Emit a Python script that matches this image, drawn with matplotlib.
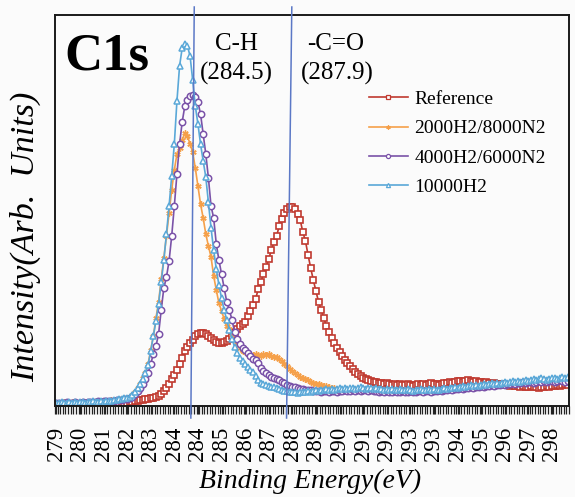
import matplotlib
matplotlib.use("Agg")
import matplotlib.pyplot as plt
import matplotlib.transforms as mtransforms
from matplotlib.lines import Line2D

# ---------------- data ----------------
E_START = 279.0     # first binding energy (eV)
E_STEP = 0.1        # sampling step (eV)

tick_labels = ["279", "280", "281", "282", "283", "284", "284", "285", "286",
               "287", "288", "289", "290", "291", "292", "293", "293", "294",
               "295", "296", "297", "298"]
TICK_EVERY = 9      # one label every 9 samples (Excel category axis)

series_names = ["Reference", "2000H2/8000N2", "4000H2/6000N2", "10000H2"]

reference = [
    1, 2, 1, 2, 1, 2, 1, 2, 2, 1,
    2, 1, 2, 2, 1, 2, 2, 2, 1, 2,
    2, 2, 2, 2, 3, 2, 3, 3, 4, 4,
    5, 5, 6, 6, 7, 7, 8, 8, 9, 10,
    12, 15, 18, 22, 27, 31, 36, 42, 48, 55,
    59, 63, 66, 70, 72, 73, 73, 72, 70, 68,
    66, 64, 63, 63, 64, 65, 67, 70, 74, 77,
    80, 82, 84, 90, 95, 101, 107, 117, 124, 132,
    139, 147, 156, 164, 170, 180, 187, 193, 197, 199,
    199, 197, 192, 186, 174, 165, 151, 138, 126, 115,
    104, 96, 88, 80, 74, 68, 63, 58, 54, 50,
    46, 43, 40, 37, 34, 32, 30, 28, 27, 26,
    25, 24, 24, 23, 23, 22, 23, 22, 21, 22,
    21, 22, 21, 21, 22, 21, 20, 21, 22, 21,
    22, 21, 22, 23, 22, 22, 21, 22, 23, 23,
    24, 23, 24, 25, 25, 24, 25, 26, 25, 24,
    25, 24, 24, 23, 24, 23, 22, 23, 22, 21,
    22, 21, 21, 20, 21, 20, 20, 19, 20, 19,
    19, 20, 19, 19, 18, 19, 19, 20, 19, 20,
    20, 21, 20, 21, 22, 21]

h2_2000 = [
    3, 3, 3, 4, 3, 3, 4, 3, 3, 4,
    4, 4, 3, 4, 4, 5, 4, 5, 5, 5,
    5, 6, 6, 6, 7, 7, 8, 8, 9, 11,
    14, 18, 22, 28, 33, 42, 56, 70, 88, 104,
    127, 148, 170, 193, 216, 236, 252, 258, 266, 273,
    270, 262, 254, 238, 220, 202, 188, 172, 160, 149,
    130, 116, 103, 95, 87, 80, 77, 72, 67, 62,
    58, 55, 54, 52, 51, 51, 52, 51, 50, 52,
    51, 52, 50, 49, 49, 47, 45, 42, 40, 37,
    35, 33, 31, 29, 28, 27, 26, 24, 23, 22,
    22, 21, 20, 20, 19, 18, 18, 17, 17, 16,
    17, 16, 17, 16, 17, 17, 16, 17, 16, 17,
    17, 16, 17, 16, 16, 15, 16, 15, 16, 15,
    15, 16, 15, 15, 16, 15, 14, 15, 15, 16,
    15, 15, 16, 15, 16, 15, 15, 16, 17, 16,
    17, 17, 18, 17, 18, 19, 18, 19, 20, 19,
    20, 19, 20, 21, 20, 21, 22, 21, 22, 21,
    22, 23, 22, 23, 24, 23, 24, 23, 24, 25,
    24, 25, 26, 25, 26, 27, 26, 25, 26, 27,
    27, 26, 27, 28, 27, 28]

h2_4000 = [
    3, 3, 3, 3, 4, 3, 3, 4, 3, 3,
    4, 3, 4, 4, 4, 4, 5, 4, 5, 5,
    5, 5, 5, 6, 6, 6, 7, 7, 8, 9,
    12, 15, 18, 22, 27, 33, 42, 52, 60, 72,
    96, 118, 129, 145, 170, 200, 232, 262, 284, 300,
    306, 310, 311, 309, 304, 292, 272, 252, 228, 200,
    188, 162, 146, 132, 118, 104, 96, 86, 74, 67,
    62, 58, 56, 53, 50, 47, 46, 43, 38, 35,
    33, 31, 29, 28, 27, 26, 24, 23, 21, 20,
    19, 19, 18, 17, 17, 16, 16, 16, 15, 15,
    15, 14, 15, 15, 14, 15, 15, 14, 15, 15,
    16, 15, 15, 16, 15, 16, 15, 16, 16, 15,
    16, 15, 15, 14, 15, 14, 15, 14, 14, 15,
    14, 14, 15, 14, 14, 15, 14, 14, 15, 15,
    14, 15, 15, 14, 15, 15, 16, 15, 16, 16,
    17, 16, 17, 17, 18, 17, 18, 18, 19, 18,
    19, 19, 20, 19, 20, 20, 21, 20, 21, 21,
    22, 21, 22, 22, 23, 22, 23, 23, 24, 23,
    24, 24, 23, 24, 25, 24, 25, 24, 25, 25,
    24, 25, 26, 25, 24, 25]

h2_10000 = [
    3, 3, 4, 3, 3, 4, 3, 4, 3, 4,
    4, 3, 4, 4, 5, 4, 4, 5, 4, 5,
    5, 5, 6, 6, 7, 7, 8, 8, 9, 11,
    14, 18, 22, 27, 33, 41, 55, 70, 85, 102,
    124, 146, 172, 200, 230, 262, 305, 340, 358, 362,
    360, 350, 326, 300, 282, 262, 245, 229, 204, 178,
    156, 137, 121, 108, 96, 86, 76, 67, 59, 53,
    48, 45, 42, 39, 36, 34, 30, 26, 23, 22,
    21, 20, 19, 19, 18, 17, 16, 15, 15, 14,
    14, 14, 13, 14, 14, 14, 15, 14, 15, 16,
    15, 16, 16, 17, 16, 17, 16, 17, 18, 17,
    18, 17, 18, 18, 17, 18, 19, 18, 17, 18,
    18, 17, 18, 17, 17, 16, 17, 16, 17, 16,
    16, 17, 16, 16, 17, 16, 15, 16, 16, 17,
    16, 16, 17, 16, 17, 16, 16, 17, 18, 17,
    18, 18, 19, 18, 19, 20, 19, 20, 21, 20,
    21, 20, 21, 22, 21, 22, 23, 22, 23, 22,
    23, 24, 23, 24, 25, 24, 25, 24, 25, 26,
    25, 26, 27, 26, 27, 28, 27, 26, 27, 28,
    28, 27, 28, 29, 28, 29]

ch_line = (284.26, 284.13)   # top / bottom energy of the C-H guide line
co_line = (287.98, 287.78)   # top / bottom energy of the -C=O guide line

# ---------------- figure ----------------
W, H = 575, 497
fig = plt.figure(figsize=(W / 100, H / 100), dpi=100)
fig.patch.set_facecolor("#fbfbfb")
serif = "Liberation Serif"

L, R, T, B = 55, 569, 15, 406
ax = fig.add_axes([L / W, 1 - B / H, (R - L) / W, (B - T) / H])
ax.set_facecolor("#fbfbfb")

n = len(reference)
energy = [E_START + E_STEP * i for i in range(n)]

styles = [
    dict(color="#c0392f", marker="s", ms=4.6, mfc="white", mew=1.2, lw=1.2),
    dict(color="#f5a04a", marker=(6, 2, 0), ms=4.5, mfc="#f5a04a", mew=1.0, lw=1.2),
    dict(color="#7a52a8", marker="o", ms=4.6, mfc="white", mew=1.1, lw=1.2),
    dict(color="#5aa8d8", marker="^", ms=4.8, mfc="white", mew=1.1, lw=1.2),
]
all_series = [reference, h2_2000, h2_4000, h2_10000]
for name, vals, st in zip(series_names, all_series, styles):
    ax.plot(energy, vals, label=name, **st)

ax.set_xlim(E_START - E_STEP / 2, E_START + E_STEP * (n - 0.5))
ax.set_ylim(0, B - T)

tick_pos = [E_START + E_STEP * TICK_EVERY * k for k in range(len(tick_labels))]
ax.set_xticks(tick_pos)
ax.set_xticklabels(tick_labels, rotation=90, fontfamily=serif, fontsize=16.5,
                   va="top")
ax.set_xticks([E_START + E_STEP * (i - 0.5) for i in range(n + 1)], minor=True)
ax.tick_params(axis="x", which="both", direction="out", length=6, width=0.9,
               color="#222222", pad=9)
ax.set_yticks([])
for sp in ax.spines.values():
    sp.set_linewidth(1.4)
    sp.set_color("#1a1a1a")

# guide lines
trans = mtransforms.blended_transform_factory(ax.transData, ax.transAxes)
top_f = (B - 7) / (B - T)
bot_f = (B - 418) / (B - T)
for xs in (ch_line, co_line):
    ax.plot([xs[0], xs[1]], [top_f, bot_f], transform=trans, color="#5b78c6",
            lw=1.1, clip_on=False, zorder=5)

# texts
def ftext(x, y, s, **kw):
    fig.text(x / W, 1 - y / H, s, fontfamily=serif, **kw)

ftext(64, 70, "C1s", fontsize=38, fontweight="bold", ha="left", va="baseline")
ftext(237, 50, "C-H", fontsize=18, ha="center", va="baseline")
ftext(236, 80, "(284.5)", fontsize=18, ha="center", va="baseline")
ftext(336, 50, "-C=O", fontsize=18, ha="center", va="baseline")
ftext(337, 80, "(287.9)", fontsize=18, ha="center", va="baseline")

ftext(310, 488, "Binding Energy(eV)", fontsize=20, fontstyle="italic",
      ha="center", va="baseline")
ftext(26, 237, "Intensity(Arb.  Units)", fontsize=24.5, fontstyle="italic",
      ha="center", va="center", rotation=90)

# legend
handles = []
for name, st in zip(series_names, styles):
    handles.append(Line2D([0], [0], color=st["color"], lw=1.2, marker=st["marker"],
                          ms=3.0, mfc=st["mfc"], mec=st["color"], mew=0.9))
leg = fig.legend(handles, series_names, loc="upper left",
                 bbox_to_anchor=(355 / W, 1 - 77 / H), frameon=False,
                 prop=dict(family=serif, size=14), handlelength=2.0,
                 handletextpad=0.35, labelspacing=0.6, borderpad=0.2)

fig.savefig("out.png", dpi=100, facecolor=fig.get_facecolor())
